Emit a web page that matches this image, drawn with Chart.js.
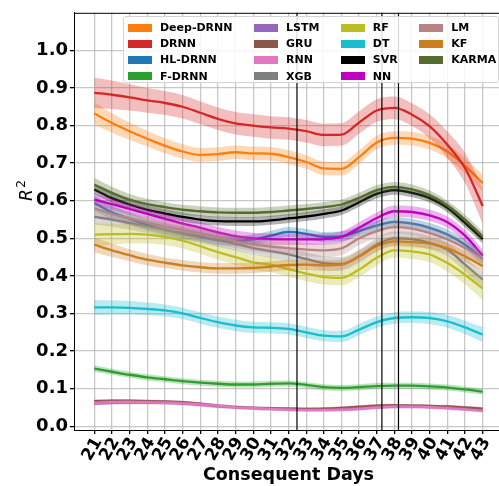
<!DOCTYPE html>
<html>
<head>
<meta charset="utf-8">
<script src="https://cdn.jsdelivr.net/npm/chart.js@4.4.1/dist/chart.umd.min.js"></script>
<style>
  html, body { margin: 0; padding: 0; background: #fff; overflow: hidden; }
  #wrap { position: relative; width: 505px; height: 486px; }
  #legend {
    position: absolute; left: 122.5px; top: 15.5px; width: 376px; height: 67px;
    box-sizing: border-box; background: rgba(255,255,255,0.85);
    border: 1px solid #d4d4d4; border-radius: 3px;
    padding: 3px 0 0 4.5px;
    display: grid; grid-auto-flow: column; grid-template-rows: repeat(4, 16.2px);
    grid-auto-columns: max-content; column-gap: 21.5px;
    font: bold 11px "DejaVu Sans", sans-serif; color: #000;
  }
  .item { display: flex; align-items: center; white-space: nowrap; }
  .sw { width: 23.7px; height: 8px; margin-right: 8.3px; }
</style>
</head>
<body>
<div id="wrap">
  <canvas id="c" width="505" height="486"></canvas>
  <div id="legend"></div>
</div>
<script>
// Forecast horizon (days) and y-axis ticks
const days = [21, 22, 23, 24, 25, 26, 27, 28, 29, 30, 31, 32, 33, 34, 35, 36, 37, 38, 39, 40, 41, 42, 43];
const yTicks = [0.0, 0.1, 0.2, 0.3, 0.4, 0.5, 0.6, 0.7, 0.8, 0.9, 1.0];
const markerDays = [32.48, 37.29, 38.23];

// Mean R^2 per model
const deepDrnn = [0.832, 0.807, 0.785, 0.765, 0.746, 0.731, 0.722, 0.724, 0.729, 0.726, 0.725, 0.716, 0.703, 0.686, 0.685, 0.716, 0.755, 0.767, 0.765, 0.754, 0.731, 0.693, 0.647];
const drnn     = [0.887, 0.882, 0.875, 0.867, 0.860, 0.850, 0.834, 0.818, 0.806, 0.800, 0.795, 0.792, 0.785, 0.775, 0.776, 0.808, 0.840, 0.847, 0.829, 0.798, 0.749, 0.687, 0.586];
const hlDrnn   = [0.594, 0.569, 0.552, 0.536, 0.523, 0.512, 0.504, 0.495, 0.493, 0.497, 0.507, 0.517, 0.512, 0.504, 0.505, 0.519, 0.534, 0.544, 0.539, 0.528, 0.510, 0.483, 0.445];
const fDrnn    = [0.153, 0.145, 0.137, 0.130, 0.125, 0.120, 0.116, 0.113, 0.111, 0.111, 0.113, 0.114, 0.110, 0.104, 0.102, 0.104, 0.107, 0.108, 0.108, 0.106, 0.103, 0.098, 0.092];
const lstm     = [0.060, 0.062, 0.063, 0.063, 0.062, 0.060, 0.057, 0.053, 0.050, 0.048, 0.046, 0.045, 0.044, 0.044, 0.045, 0.047, 0.050, 0.052, 0.052, 0.051, 0.049, 0.046, 0.043];
const gru      = [0.067, 0.068, 0.068, 0.067, 0.066, 0.064, 0.060, 0.055, 0.051, 0.049, 0.048, 0.047, 0.046, 0.047, 0.049, 0.052, 0.055, 0.056, 0.055, 0.054, 0.053, 0.050, 0.047];
const rnn      = [0.062, 0.064, 0.065, 0.064, 0.063, 0.061, 0.058, 0.054, 0.050, 0.048, 0.046, 0.044, 0.043, 0.043, 0.044, 0.046, 0.050, 0.052, 0.052, 0.051, 0.048, 0.045, 0.041];
const xgb      = [0.557, 0.550, 0.541, 0.532, 0.523, 0.514, 0.505, 0.495, 0.485, 0.474, 0.466, 0.457, 0.445, 0.434, 0.432, 0.452, 0.483, 0.500, 0.498, 0.488, 0.470, 0.430, 0.390];
const rf       = [0.510, 0.511, 0.512, 0.510, 0.504, 0.494, 0.479, 0.463, 0.450, 0.436, 0.430, 0.418, 0.406, 0.397, 0.395, 0.417, 0.448, 0.468, 0.465, 0.457, 0.434, 0.403, 0.366];
const dt       = [0.316, 0.316, 0.315, 0.312, 0.308, 0.300, 0.288, 0.277, 0.268, 0.263, 0.262, 0.259, 0.250, 0.241, 0.239, 0.257, 0.277, 0.288, 0.290, 0.288, 0.279, 0.263, 0.244];
const svr      = [0.630, 0.607, 0.590, 0.576, 0.566, 0.557, 0.550, 0.546, 0.545, 0.545, 0.548, 0.553, 0.558, 0.565, 0.574, 0.596, 0.618, 0.628, 0.621, 0.607, 0.581, 0.541, 0.498];
const nn       = [0.603, 0.591, 0.578, 0.565, 0.552, 0.539, 0.528, 0.516, 0.506, 0.500, 0.498, 0.497, 0.497, 0.498, 0.504, 0.528, 0.554, 0.572, 0.570, 0.561, 0.543, 0.507, 0.454];
const lm       = [0.580, 0.565, 0.553, 0.542, 0.532, 0.522, 0.512, 0.502, 0.492, 0.483, 0.478, 0.474, 0.470, 0.468, 0.473, 0.500, 0.519, 0.530, 0.526, 0.514, 0.497, 0.474, 0.445];
const kf       = [0.483, 0.468, 0.455, 0.443, 0.435, 0.428, 0.423, 0.420, 0.420, 0.421, 0.425, 0.429, 0.430, 0.428, 0.430, 0.452, 0.479, 0.492, 0.490, 0.486, 0.474, 0.452, 0.426];
const karma    = [0.643, 0.621, 0.603, 0.591, 0.583, 0.576, 0.572, 0.569, 0.568, 0.568, 0.570, 0.574, 0.578, 0.583, 0.590, 0.608, 0.628, 0.637, 0.630, 0.614, 0.587, 0.550, 0.504];

// Standard deviation of R^2 per model (half-width of the shaded band)
const deepDrnnSd = [0.030, 0.026, 0.023, 0.021, 0.020, 0.019, 0.018, 0.018, 0.018, 0.018, 0.018, 0.018, 0.018, 0.018, 0.018, 0.018, 0.018, 0.018, 0.018, 0.018, 0.019, 0.020, 0.022];
const drnnSd     = [0.040, 0.038, 0.035, 0.033, 0.032, 0.031, 0.030, 0.030, 0.030, 0.030, 0.030, 0.030, 0.030, 0.030, 0.030, 0.030, 0.030, 0.030, 0.030, 0.032, 0.035, 0.040, 0.048];
const hlDrnnSd   = [0.020, 0.018, 0.016, 0.015, 0.014, 0.014, 0.013, 0.013, 0.013, 0.013, 0.013, 0.013, 0.013, 0.013, 0.013, 0.013, 0.013, 0.013, 0.013, 0.013, 0.014, 0.014, 0.015];
const fDrnnSd    = [0.009, 0.008, 0.008, 0.008, 0.008, 0.008, 0.008, 0.008, 0.008, 0.008, 0.008, 0.008, 0.008, 0.008, 0.008, 0.008, 0.008, 0.008, 0.008, 0.008, 0.008, 0.008, 0.008];
const lstmSd     = [0.005, 0.005, 0.005, 0.005, 0.005, 0.005, 0.005, 0.005, 0.005, 0.005, 0.005, 0.005, 0.005, 0.005, 0.005, 0.005, 0.005, 0.005, 0.005, 0.005, 0.005, 0.005, 0.005];
const gruSd      = [0.004, 0.004, 0.004, 0.004, 0.004, 0.004, 0.004, 0.004, 0.004, 0.004, 0.004, 0.004, 0.004, 0.004, 0.004, 0.004, 0.004, 0.004, 0.004, 0.004, 0.004, 0.004, 0.004];
const rnnSd      = [0.005, 0.005, 0.005, 0.005, 0.005, 0.005, 0.005, 0.005, 0.005, 0.005, 0.005, 0.005, 0.005, 0.005, 0.005, 0.005, 0.005, 0.005, 0.005, 0.005, 0.005, 0.005, 0.005];
const xgbSd      = [0.020, 0.019, 0.018, 0.018, 0.018, 0.018, 0.018, 0.018, 0.018, 0.018, 0.018, 0.018, 0.018, 0.018, 0.018, 0.018, 0.018, 0.018, 0.018, 0.018, 0.018, 0.018, 0.020];
const rfSd       = [0.030, 0.028, 0.026, 0.024, 0.022, 0.021, 0.020, 0.020, 0.020, 0.020, 0.020, 0.020, 0.020, 0.020, 0.020, 0.020, 0.020, 0.020, 0.020, 0.021, 0.023, 0.026, 0.030];
const dtSd       = [0.020, 0.019, 0.018, 0.017, 0.016, 0.015, 0.015, 0.015, 0.015, 0.015, 0.015, 0.015, 0.015, 0.015, 0.015, 0.015, 0.015, 0.015, 0.015, 0.016, 0.017, 0.018, 0.020];
const svrSd      = [0.013, 0.012, 0.012, 0.012, 0.012, 0.012, 0.012, 0.012, 0.012, 0.012, 0.012, 0.012, 0.012, 0.012, 0.012, 0.012, 0.012, 0.012, 0.012, 0.012, 0.012, 0.012, 0.012];
const nnSd       = [0.016, 0.015, 0.015, 0.015, 0.015, 0.015, 0.015, 0.015, 0.015, 0.015, 0.015, 0.015, 0.015, 0.015, 0.015, 0.015, 0.015, 0.015, 0.015, 0.015, 0.015, 0.015, 0.016];
const lmSd       = [0.020, 0.019, 0.018, 0.018, 0.018, 0.018, 0.018, 0.018, 0.018, 0.018, 0.018, 0.018, 0.018, 0.018, 0.018, 0.018, 0.018, 0.018, 0.018, 0.018, 0.018, 0.018, 0.019];
const kfSd       = [0.020, 0.018, 0.016, 0.015, 0.014, 0.014, 0.014, 0.014, 0.014, 0.014, 0.014, 0.014, 0.014, 0.014, 0.014, 0.014, 0.014, 0.014, 0.014, 0.014, 0.014, 0.014, 0.015];
const karmaSd    = [0.018, 0.016, 0.015, 0.014, 0.013, 0.013, 0.013, 0.013, 0.013, 0.013, 0.013, 0.013, 0.013, 0.013, 0.013, 0.013, 0.013, 0.013, 0.013, 0.013, 0.013, 0.013, 0.014];

const modelNames = ['Deep-DRNN', 'DRNN', 'HL-DRNN', 'F-DRNN', 'LSTM', 'GRU', 'RNN', 'XGB', 'RF', 'DT', 'SVR', 'NN', 'LM', 'KF', 'KARMA'];
const modelMeans = [deepDrnn, drnn, hlDrnn, fDrnn, lstm, gru, rnn, xgb, rf, dt, svr, nn, lm, kf, karma];
const modelSds   = [deepDrnnSd, drnnSd, hlDrnnSd, fDrnnSd, lstmSd, gruSd, rnnSd, xgbSd, rfSd, dtSd, svrSd, nnSd, lmSd, kfSd, karmaSd];
const modelColors = ['#ff7f0e', '#d62728', '#1f77b4', '#2ca02c', '#9467bd', '#8c564b', '#e377c2', '#7f7f7f',
                     '#bcbd22', '#17becf', '#000000', '#c000c0', '#b88383', '#cc7f20', '#556b2f'];

const FONT = '"DejaVu Sans", sans-serif';

function withAlpha(hex, a) {
  const n = parseInt(hex.slice(1), 16);
  return `rgba(${(n >> 16) & 255},${(n >> 8) & 255},${n & 255},${a})`;
}

// Each model: lower bound, upper bound (filled down to the lower one), then the mean line.
const datasets = [];
modelNames.forEach((name, k) => {
  const mean = modelMeans[k], sd = modelSds[k], col = modelColors[k];
  const common = { pointRadius: 0, cubicInterpolationMode: 'monotone' };
  datasets.push(Object.assign({
    label: name + ' lo', data: days.map((d, i) => ({ x: d, y: mean[i] - sd[i] })),
    borderWidth: 0, borderColor: 'rgba(0,0,0,0)', fill: false
  }, common));
  datasets.push(Object.assign({
    label: name + ' hi', data: days.map((d, i) => ({ x: d, y: mean[i] + sd[i] })),
    borderWidth: 0, borderColor: 'rgba(0,0,0,0)', backgroundColor: withAlpha(col, 0.3), fill: '-1'
  }, common));
  datasets.push(Object.assign({
    label: name, data: days.map((d, i) => ({ x: d, y: mean[i] })),
    borderWidth: 2.3, borderColor: col, fill: false
  }, common));
});
// later models are painted over earlier ones
datasets.forEach((ds, i) => { ds.order = 1000 - i; });

// Legend (four rows, filled column by column)
const legendEl = document.getElementById('legend');
modelNames.forEach((name, k) => {
  const it = document.createElement('div');
  it.className = 'item';
  const sw = document.createElement('span');
  sw.className = 'sw';
  sw.style.background = modelColors[k];
  const tx = document.createElement('span');
  tx.textContent = name;
  it.appendChild(sw); it.appendChild(tx);
  legendEl.appendChild(it);
});

const decor = {
  id: 'decor',
  afterDatasetsDraw(chart) {
    const { ctx, chartArea, scales } = chart;
    ctx.save();
    ctx.strokeStyle = '#000';
    ctx.lineWidth = 1.2;
    markerDays.forEach(d => {
      const x = scales.x.getPixelForValue(d);
      ctx.beginPath();
      ctx.moveTo(x, chartArea.top);
      ctx.lineTo(x, chartArea.bottom);
      ctx.stroke();
    });
    ctx.restore();
  },
  afterDraw(chart) {
    const { ctx, chartArea } = chart;
    ctx.save();
    // frame top edge
    ctx.strokeStyle = '#000';
    ctx.lineWidth = 1;
    ctx.beginPath();
    ctx.moveTo(chartArea.left, chartArea.top + 0.5);
    ctx.lineTo(chartArea.right, chartArea.top + 0.5);
    ctx.stroke();
    // y-axis title: R^2
    ctx.fillStyle = '#000';
    ctx.translate(32, 201);
    ctx.rotate(-Math.PI / 2);
    ctx.textBaseline = 'alphabetic';
    ctx.textAlign = 'left';
    ctx.font = 'italic 17px ' + FONT;
    ctx.fillText('R', 0, 0);
    const w = ctx.measureText('R').width;
    ctx.font = '12px ' + FONT;
    ctx.fillText('2', w + 1.5, -7);
    ctx.restore();
  }
};

new Chart(document.getElementById('c'), {
  type: 'line',
  data: { datasets },
  options: {
    responsive: false,
    devicePixelRatio: 1,
    animation: false,
    layout: { padding: { top: 12.5, right: 2, bottom: 0, left: 0 } },
    plugins: { legend: { display: false }, tooltip: { enabled: false } },
    scales: {
      x: {
        type: 'linear', min: 19.85, max: 44.15,
        afterBuildTicks: s => { s.ticks = days.map(v => ({ value: v })); },
        afterFit: s => { s.height = 56; },
        ticks: {
          autoSkip: false, minRotation: 60, maxRotation: 60, padding: 0, labelOffset: 4,
          color: '#000', font: { family: FONT, size: 17, weight: 'bold' },
          callback: v => String(v)
        },
        grid: { color: 'rgba(176,176,176,0.7)', lineWidth: 1.3, drawTicks: true, tickLength: 4, tickColor: '#000' },
        border: { color: '#000', width: 1 },
        title: {
          display: true, text: 'Consequent Days', color: '#000',
          font: { family: FONT, size: 17.5, weight: 'bold' }, padding: { top: 0, bottom: 0 }
        }
      },
      y: {
        min: -0.01, max: 1.1,
        afterBuildTicks: s => { s.ticks = yTicks.map(v => ({ value: v })); },
        afterFit: s => { s.width = 74; },
        ticks: {
          padding: 2, color: '#000', font: { family: FONT, size: 18, weight: 'bold' },
          callback: v => Number(v).toFixed(1)
        },
        grid: { color: 'rgba(176,176,176,0.7)', lineWidth: 1.3, drawTicks: true, tickLength: 4, tickColor: '#000' },
        border: { color: '#000', width: 1 }
      }
    }
  },
  plugins: [decor]
});
</script>
</body>
</html>
